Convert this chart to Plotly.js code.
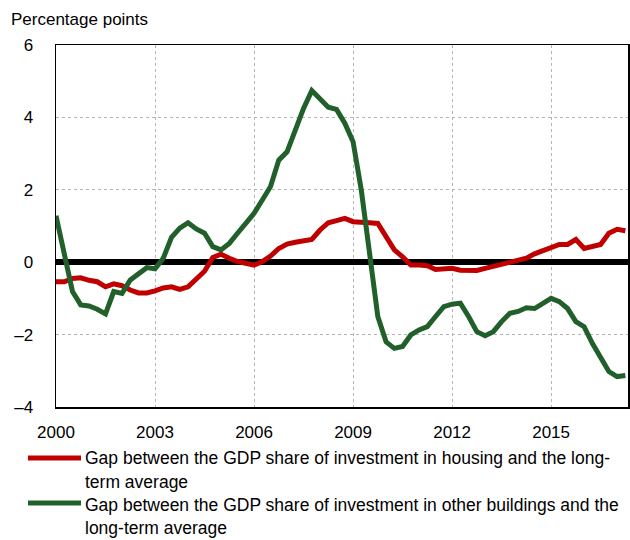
<!DOCTYPE html>
<html>
<head>
<meta charset="utf-8">
<script src="https://cdn.plot.ly/plotly-3.0.1.min.js"></script>
<style>html,body{margin:0;padding:0;background:#fff;}#chart{width:630px;height:540px;}</style>
</head>
<body>
<div id="chart"></div>
<script>
// Quarterly data, 2000Q1 onward
var startYear = 2000;
var housingGap = [
  -0.54, -0.54, -0.45, -0.43, -0.50, -0.54, -0.68, -0.60, -0.65, -0.77,
  -0.85, -0.85, -0.79, -0.71, -0.68, -0.75, -0.68, -0.48, -0.25, 0.13,
  0.22, 0.11, 0.02, -0.03, -0.08, 0.02, 0.17, 0.38, 0.50, 0.55,
  0.59, 0.63, 0.89, 1.09, 1.15, 1.21, 1.12, 1.09, 1.09, 1.07,
  0.71, 0.34, 0.15, -0.08, -0.08, -0.10, -0.20, -0.20, -0.17, -0.22,
  -0.23, -0.23, -0.17, -0.12, -0.06, -0.01, 0.04, 0.11, 0.23, 0.31,
  0.38, 0.49, 0.49, 0.63, 0.38, 0.45, 0.49, 0.80, 0.91, 0.87
];
var otherBuildingsGap = [
  1.28, 0.15, -0.81, -1.18, -1.21, -1.30, -1.43, -0.81, -0.86, -0.49,
  -0.31, -0.15, -0.18, 0.11, 0.69, 0.94, 1.09, 0.92, 0.80, 0.43,
  0.34, 0.52, 0.80, 1.07, 1.35, 1.72, 2.09, 2.82, 3.05, 3.65,
  4.25, 4.74, 4.53, 4.28, 4.22, 3.84, 3.33, 1.99, 0.25, -1.50,
  -2.20, -2.38, -2.33, -2.01, -1.87, -1.78, -1.50, -1.23, -1.16, -1.13,
  -1.50, -1.92, -2.03, -1.92, -1.64, -1.41, -1.36, -1.26, -1.28, -1.12,
  -1.00, -1.09, -1.28, -1.64, -1.78, -2.24, -2.65, -3.02, -3.16, -3.13
];
var seriesNames = [
  "Gap between the GDP share of investment in housing and the long-term average",
  "Gap between the GDP share of investment in other buildings and the long-term average"
];
var legendLines = [
  ["Gap between the GDP share of investment in housing and the long-", "term average"],
  ["Gap between the GDP share of investment in other buildings and the", "long-term average"]
];
var xTickVals = [2000, 2003, 2006, 2009, 2012, 2015];
var xTickText = ["2000", "2003", "2006", "2009", "2012", "2015"];
var yTickVals = [-4, -2, 0, 2, 4, 6];
var yTickText = ["\u20134", "\u20132", "0", "2", "4", "6"];
var yAxisLabel = "Percentage points";

var quarters = housingGap.map(function (_, i) { return startYear + i / 4; });

var FONT = "'Liberation Sans', Arial, sans-serif";
var FS = 17;
var FS_LEG = 17.5;
var RED = "#c00000";
var GREEN = "#22602b";

var traces = [
  { x: quarters, y: housingGap, type: "scatter", mode: "lines", name: seriesNames[0],
    line: { color: RED, width: 5 }, showlegend: false, hoverinfo: "x+y" },
  { x: quarters, y: otherBuildingsGap, type: "scatter", mode: "lines", name: seriesNames[1],
    line: { color: GREEN, width: 5 }, showlegend: false, hoverinfo: "x+y" }
];

// pixel helpers for legend placement (plot area 56..628 x 45..407)
var L = 56, R = 628, T = 45, B = 407;
function px(x) { return (x - L) / (R - L); }
function py(y) { return (B - y) / (B - T); }

var shapes = [
  { type: "line", xref: "paper", yref: "paper", x0: px(28), x1: px(81), y0: py(458), y1: py(458),
    line: { color: RED, width: 5 } },
  { type: "line", xref: "paper", yref: "paper", x0: px(28), x1: px(81), y0: py(503), y1: py(503),
    line: { color: GREEN, width: 5 } }
];
var annY = [[458, 482], [505, 528]];
var annotations = [
  { text: yAxisLabel, xref: "paper", yref: "paper", x: px(9), y: py(19), xanchor: "left", yanchor: "middle",
    showarrow: false, font: { family: FONT, size: FS, color: "#000" } }
];
legendLines.forEach(function (lines, s) {
  lines.forEach(function (t, k) {
    annotations.push({ text: t, xref: "paper", yref: "paper", x: px(83), y: py(annY[s][k]),
      xanchor: "left", yanchor: "middle", showarrow: false,
      font: { family: FONT, size: FS_LEG, color: "#000" } });
  });
});

var layout = {
  width: 630, height: 540,
  margin: { l: L, r: 630 - R, t: T, b: 540 - B },
  paper_bgcolor: "#fff", plot_bgcolor: "#fff",
  font: { family: FONT, size: FS, color: "#000" },
  showlegend: false,
  xaxis: {
    range: [2000, 2017.33], tickvals: xTickVals, ticktext: xTickText,
    showgrid: true, gridcolor: "#b5b5b5", griddash: "dot", gridwidth: 1,
    showline: true, mirror: true, linecolor: "#000", linewidth: 1.5,
    ticks: "", ticklabelstandoff: 9, zeroline: false,
    tickfont: { family: FONT, size: FS, color: "#000" }
  },
  yaxis: {
    range: [-4, 6], tickvals: yTickVals, ticktext: yTickText,
    showgrid: true, gridcolor: "#b5b5b5", griddash: "dot", gridwidth: 1,
    showline: true, mirror: true, linecolor: "#000", linewidth: 1.5,
    ticks: "", ticklabelstandoff: 18,
    zeroline: true, zerolinecolor: "#000", zerolinewidth: 6,
    tickfont: { family: FONT, size: FS, color: "#000" }
  },
  shapes: shapes,
  annotations: annotations
};

Plotly.newPlot("chart", traces, layout, { displayModeBar: false, staticPlot: true });
</script>
</body>
</html>
